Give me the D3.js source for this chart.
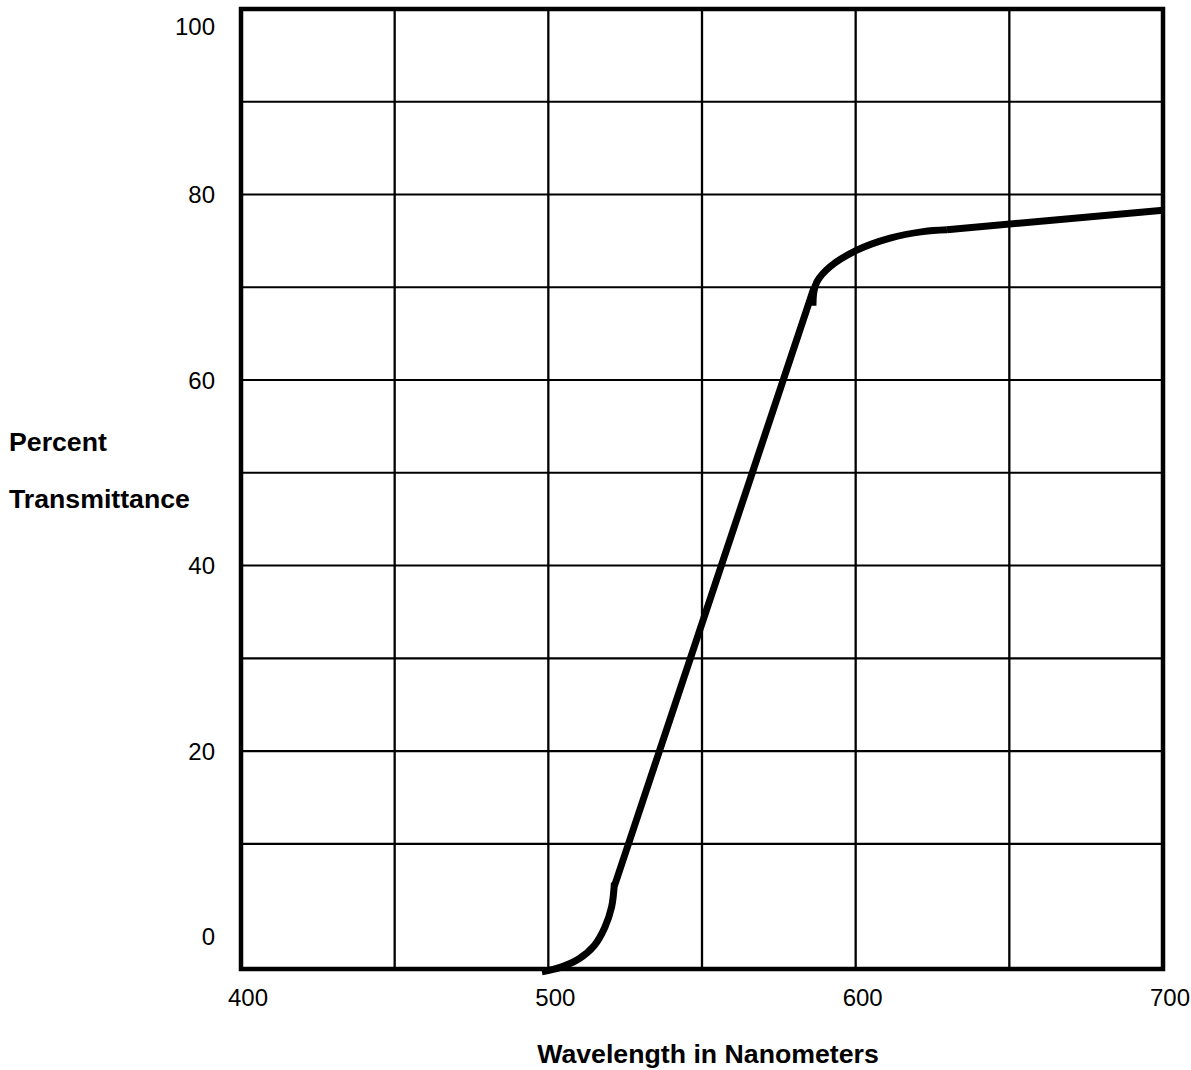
<!DOCTYPE html>
<html><head><meta charset="utf-8">
<script src="https://cdn.jsdelivr.net/npm/d3@7"></script>
<style>
body{margin:0;background:#fff;}
svg{display:block;font-family:"Liberation Sans",Arial,Helvetica,sans-serif;}
</style>
</head><body>
<svg id="chart" width="1191" height="1070"></svg>
<script>
// ---- data ----
const xDomain = [400, 700];
const yDomain = [-3.5, 100];
const xTickValues = [400, 500, 600, 700];
const yTickValues = [0, 20, 40, 60, 80, 100];
const xGridValues = [450, 500, 550, 600, 650];
const yGridValues = [10, 20, 30, 40, 50, 60, 70, 80, 90];
const xTitle = "Wavelength in Nanometers";
const yTitleLines = ["Percent", "Transmittance"];
// transmittance curve, drawn as separate strokes
const toeCurve = [[497.9,-3.8],[504.1,-3.3],[510.0,-2.4],[514.9,-1.0],[518.4,1.0],[520.6,3.2],[521.5,5.8]];
const slopeLine = [[521.5,5.45],[586.4,69.9]];
const shoulderCurve = [[586.1,68.0],[586.4,69.5],[587.4,70.6],[591.6,72.2],[600.4,74.0],[611.2,75.3],[621.9,76.0],[629.7,76.2]];
const plateauLine = [[629.7,76.2],[700,78.3]];

// ---- layout ----
const W = 1191, H = 1070;
const margin = {left: 241, right: 28, top: 9, bottom: 101};
const svg = d3.select("#chart");
const x = d3.scaleLinear().domain(xDomain).range([margin.left, W - margin.right]);
const y = d3.scaleLinear().domain(yDomain).range([H - margin.bottom, margin.top]);

// grid
const g = svg.append("g");
g.selectAll("line.v").data(xGridValues).join("line")
  .attr("x1", d => x(d)).attr("x2", d => x(d))
  .attr("y1", y.range()[1]).attr("y2", y.range()[0])
  .attr("stroke", "#000").attr("stroke-width", 2.3);
g.selectAll("line.h").data(yGridValues).join("line")
  .attr("y1", d => y(d)).attr("y2", d => y(d))
  .attr("x1", x.range()[0]).attr("x2", x.range()[1])
  .attr("stroke", "#000").attr("stroke-width", 2.2);

// frame
svg.append("rect")
  .attr("x", x.range()[0]).attr("y", y.range()[1])
  .attr("width", x.range()[1] - x.range()[0])
  .attr("height", y.range()[0] - y.range()[1])
  .attr("fill", "none").attr("stroke", "#000").attr("stroke-width", 4.5);

// curve
const smooth = d3.line().x(d => x(d[0])).y(d => y(d[1])).curve(d3.curveCatmullRom.alpha(0.5));
const straight = d3.line().x(d => x(d[0])).y(d => y(d[1]));
[[toeCurve, smooth], [slopeLine, straight], [shoulderCurve, smooth], [plateauLine, straight]].forEach(([data, gen]) => {
  svg.append("path").attr("d", gen(data))
    .attr("fill", "none").attr("stroke", "#000")
    .attr("stroke-width", 7).attr("stroke-linecap", "butt").attr("stroke-linejoin", "round");
});

// tick labels
svg.append("g").selectAll("text").data(xTickValues).join("text")
  .attr("x", d => x(d) + 7).attr("y", 1006)
  .attr("text-anchor", "middle").attr("font-size", 24)
  .text(d => d);
svg.append("g").selectAll("text").data(yTickValues).join("text")
  .attr("x", 215)
  .attr("y", d => Math.max(y(d), y.range()[1] + 17))
  .attr("dy", "0.36em")
  .attr("text-anchor", "end").attr("font-size", 24)
  .text(d => d);

// titles
svg.append("text").attr("x", 708).attr("y", 1063)
  .attr("text-anchor", "middle").attr("font-size", 26.7).attr("font-weight", "bold")
  .text(xTitle);
svg.append("g").selectAll("text").data(yTitleLines).join("text")
  .attr("x", 9).attr("y", (d, i) => 451 + i * 57)
  .attr("font-size", 26.7).attr("font-weight", "bold")
  .text(d => d);
</script>
</body></html>
